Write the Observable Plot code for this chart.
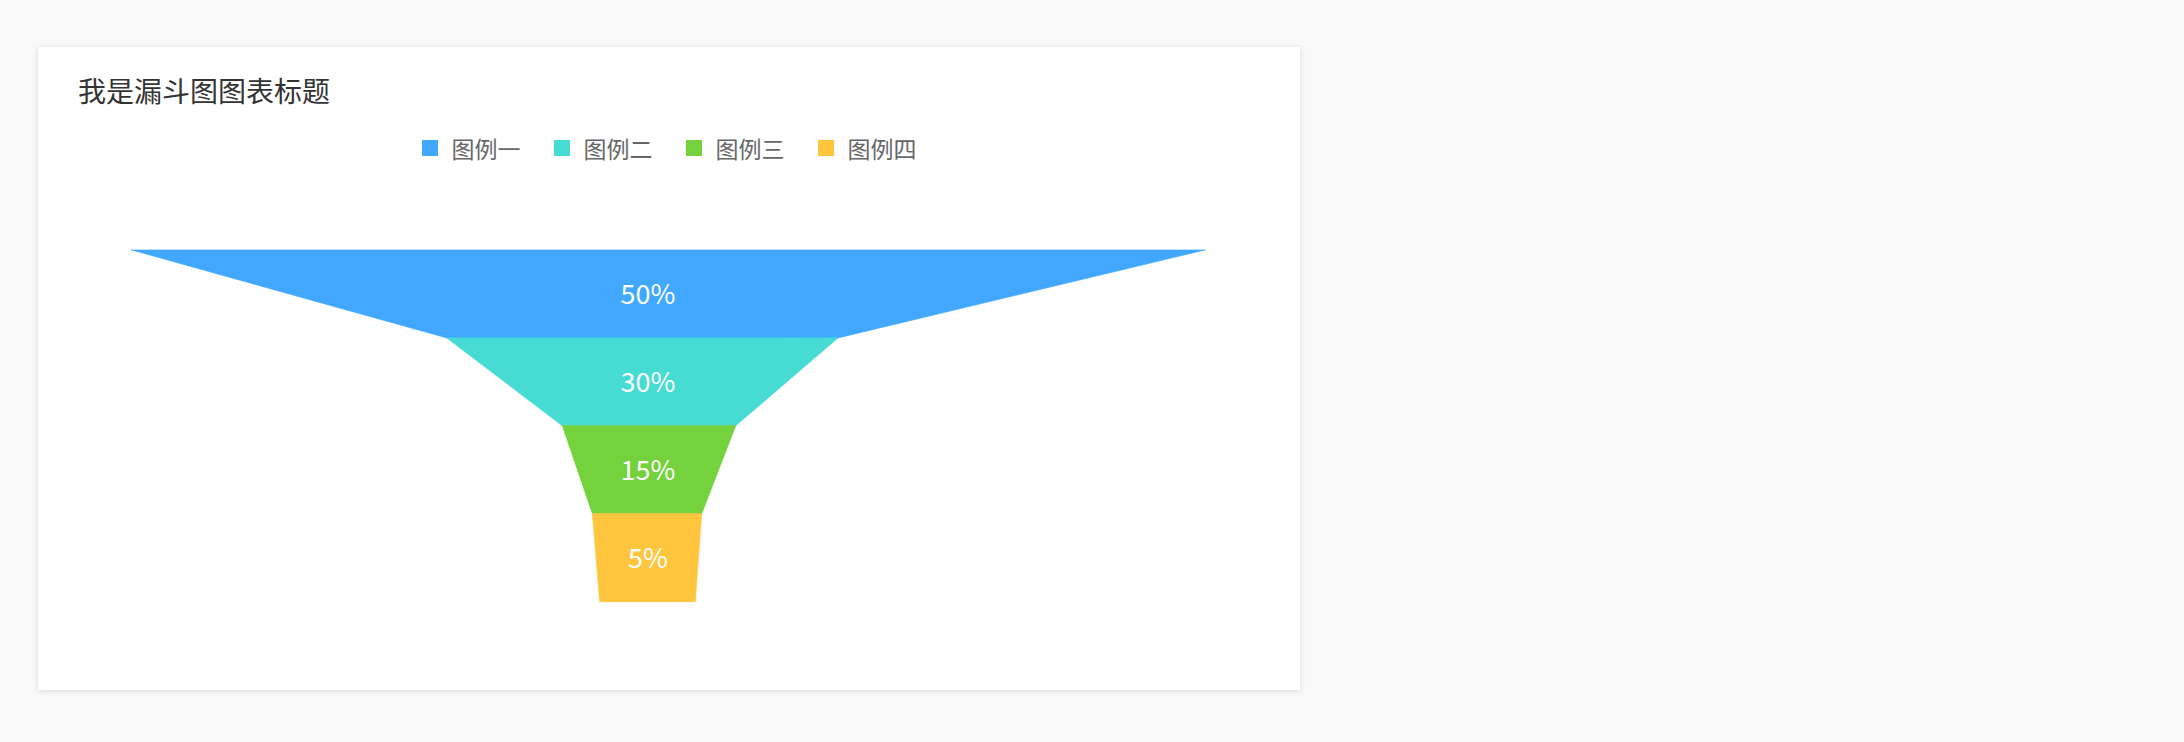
<!DOCTYPE html>
<html><head><meta charset="utf-8">
<script src="https://cdn.jsdelivr.net/npm/d3@7"></script>
<script src="https://cdn.jsdelivr.net/npm/@observablehq/plot@0.6"></script>
<style>
html,body{margin:0;padding:0;}
body{background:#f9f9f9;width:2184px;height:742px;position:relative;overflow:hidden;font-family:"Noto Sans CJK SC","Noto Sans",sans-serif;}
#card{position:absolute;left:38px;top:47px;width:1262px;height:643px;background:#fff;box-shadow:0 1px 6px rgba(0,0,0,0.13);}
#title{position:absolute;left:40px;top:29px;font-size:28px;line-height:28px;color:#333;white-space:nowrap;}
#legend{position:absolute;left:384px;top:89.5px;display:flex;align-items:center;height:23px;}
.item{display:flex;align-items:center;margin-right:33.5px;}
.sw{width:16px;height:16px;margin-right:13.5px;}
.lt{font-size:23px;line-height:23px;color:#666;white-space:nowrap;width:69px;}
#chart{position:absolute;left:0;top:153px;}
</style>
</head><body>
<div id="card">
  <div id="title"></div>
  <div id="legend"></div>
  <div id="chart"></div>
</div>
<script>
// ---- data ----
const title = "我是漏斗图图表标题";
const categories = ["图例一", "图例二", "图例三", "图例四"];
const values = [50, 30, 15, 5];
const labels = ["50%", "30%", "15%", "5%"];
const colors = ["#42A8FF", "#46DBD3", "#74D23D", "#FFC53D"];
// funnel outline: left / right edge at each stage boundary (0-100 of full width)
const leftEdges  = [0, 29.35, 40.12, 42.92, 43.60];
const rightEdges = [100, 65.81, 56.28, 53.11, 52.51];

// ---- build ----
document.getElementById("title").textContent = title;
const legend = document.getElementById("legend");
categories.forEach((c, i) => {
  const it = document.createElement("div"); it.className = "item";
  const sw = document.createElement("div"); sw.className = "sw"; sw.style.background = colors[i];
  const t = document.createElement("div"); t.className = "lt"; t.textContent = c;
  it.appendChild(sw); it.appendChild(t); legend.appendChild(it);
});

const pts = [];
categories.forEach((c, i) => {
  pts.push({cat: c, y: i, x1: leftEdges[i], x2: rightEdges[i]});
  pts.push({cat: c, y: i + 1, x1: leftEdges[i + 1], x2: rightEdges[i + 1]});
});
const n = categories.length;
const centerX = (leftEdges[n] + rightEdges[n]) / 2;
const labelData = categories.map((c, i) => ({cat: c, y: i + 0.5, x: centerX, label: labels[i], v: values[i]}));

const chart = Plot.plot({
  width: 1262, height: 440,
  marginLeft: 93.7, marginRight: 95, marginTop: 50, marginBottom: 38.3,
  style: {fontFamily: '"Noto Sans CJK SC","Noto Sans",sans-serif', background: "transparent"},
  x: {domain: [0, 100], axis: null},
  y: {domain: [0, n], reverse: true, axis: null},
  color: {domain: categories, range: colors},
  marks: [
    Plot.areaX(pts, {y: "y", x1: "x1", x2: "x2", z: "cat", fill: "cat", stroke: "cat", strokeWidth: 0.6, curve: "linear"}),
    Plot.text(labelData, {x: "x", y: "y", text: "label", fill: "white", fontSize: 27, dy: 1})
  ]
});
document.getElementById("chart").appendChild(chart);
</script>
</body></html>
